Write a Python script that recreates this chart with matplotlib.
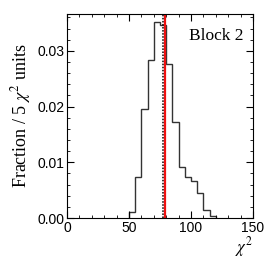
import numpy as np
import matplotlib
matplotlib.use('Agg')
import matplotlib.pyplot as plt
from matplotlib.ticker import MultipleLocator, FormatStrFormatter

plt.rcParams['mathtext.fontset'] = 'stix'

# histogram: fraction per 5 chi2 units
bin_edges = [50, 55, 60, 65, 70, 75, 80, 85, 90, 95, 100, 105, 110, 115, 120]
fractions = [0.0011, 0.0073, 0.0195, 0.0284, 0.0351, 0.0346, 0.0276, 0.0173,
             0.0092, 0.0073, 0.0067, 0.0044, 0.0014, 0.0004]
mean_chi2 = 77.5      # dotted line
observed_chi2 = 79.0  # red line
block_label = 'Block 2'

fig = plt.figure(figsize=(2.66, 2.60), dpi=100)
ax = fig.add_axes([0.252, 0.1615, 0.699, 0.7845])

ax.stairs(fractions, bin_edges, color='#333333', linewidth=1.0)
ax.axvline(mean_chi2, color='black', linestyle=(0, (1, 1)), linewidth=1.1)
ax.axvline(observed_chi2, color='#ee1111', linewidth=1.6)

ax.set_xlim(0, 150)
ax.set_ylim(0, 0.0366)
ax.xaxis.set_major_locator(MultipleLocator(50))
ax.xaxis.set_minor_locator(MultipleLocator(10))
ax.yaxis.set_major_locator(MultipleLocator(0.01))
ax.yaxis.set_minor_locator(MultipleLocator(0.002))
ax.yaxis.set_major_formatter(FormatStrFormatter('%.2f'))
ax.tick_params(which='both', direction='in', top=True, right=True,
               labelsize=10, pad=2)
ax.tick_params(which='major', length=5)
ax.tick_params(which='minor', length=2.5)
for lab in ax.get_xticklabels() + ax.get_yticklabels():
    lab.set_family('Liberation Sans')

ax.set_ylabel(r'Fraction / 5 $\chi^2$ units', family='Liberation Serif',
              fontsize=13, labelpad=3)
ax.text(1.0, -0.085, r'$\chi^2$', transform=ax.transAxes, ha='right', va='top',
        fontsize=12)
ax.text(0.95, 0.93, block_label, transform=ax.transAxes, ha='right', va='top',
        family='Liberation Serif', fontsize=12.5)

fig.savefig('out.png', dpi=100)
